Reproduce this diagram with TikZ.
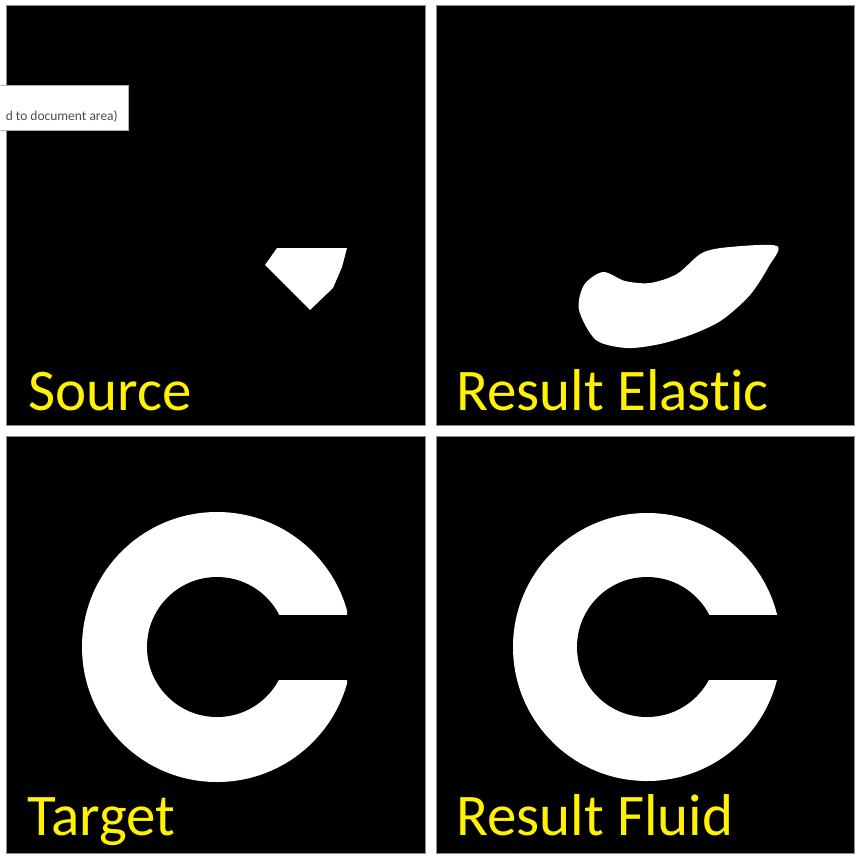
\documentclass[tikz,border=0pt]{standalone}
\usepackage{fontspec}
\setmainfont{Carlito}[Ligatures=NoCommon]
\tikzset{
  panel/.style={fill=black,draw=black!45,line width=0.6pt},
  caption/.style={anchor=base west,inner sep=0pt,text=yellow,
    font=\fontsize{59}{60}\selectfont},
  blob/.style={fill=white}
}
\begin{document}
\begin{tikzpicture}[x=1pt,y=-1pt]
\useasboundingbox[fill=white] (0,0) rectangle (858,861);

% Panels
\draw[panel] (6,5) rectangle (425,425);
\draw[panel] (436,5) rectangle (854,425);
\draw[panel] (6,436) rectangle (425,853);
\draw[panel] (436,436) rectangle (854,853);

% Source
\fill[blob] (265,265)--(277,248)--(347,248)--(342,267)--(333,288)--(310,310)--cycle;
\node[caption] (src) at (28,410) {Source};

% Result Elastic
\fill[blob] plot[smooth cycle,tension=0.5] coordinates
  {(579,310) (584,285) (603,272) (625,281) (650,283) (677,274) (702,253)
   (730,247) (777,246) (769,266) (750,295) (722,320) (693,334) (660,344)
   (627,348) (596,340)};
\node[caption] (elas) at (456,410) {Result Elastic};

% Target
\begin{scope}
\clip (80,505) rectangle (347,790);
\fill[blob] (217,647) circle (135);
\end{scope}
\fill[black] (217,647) circle (70);
\fill[black] (217,615) rectangle (350,680);
\node[caption] (tgt) at (27,835) {Target};

% Result Fluid
\begin{scope}
\clip (505,505) rectangle (777,790);
\fill[blob] (647,647) circle (134);
\end{scope}
\fill[black] (647,647) circle (70);
\fill[black] (647,615) rectangle (780,680);
\node[caption] (fluid) at (456,835) {Result Fluid};

% Tooltip
\draw[fill=white,draw=black!30,line width=0.6pt] (-2,85) rectangle (128,130);
\node[anchor=base east,inner sep=0pt,text=black!70,
  font=\fontsize{13.5}{14}\selectfont] (tip) at (118,121) {d to document area)};
\end{tikzpicture}
\end{document}
